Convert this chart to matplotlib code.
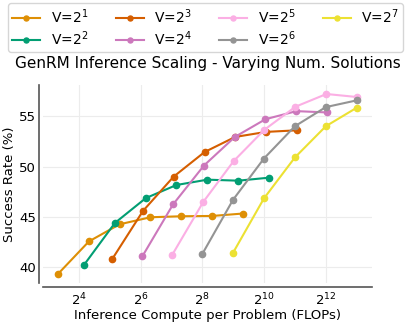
import matplotlib
matplotlib.use("Agg")
import matplotlib.pyplot as plt
import numpy as np

# log2 of inference compute per problem, success rates (%)
labels = ["V=$2^1$", "V=$2^2$", "V=$2^3$", "V=$2^4$", "V=$2^5$", "V=$2^6$", "V=$2^7$"]
colors = ["#DE8F05", "#029E73", "#D55E00", "#CC78BC", "#FBAFE4", "#949494", "#ECE133"]

x_v1 = [3.33, 4.33, 5.32, 6.32, 7.32, 8.32, 9.31]
y_v1 = [39.34, 42.57, 44.27, 44.97, 45.07, 45.1, 45.34]
x_v2 = [4.17, 5.17, 6.17, 7.16, 8.16, 9.16, 10.16]
y_v2 = [40.23, 44.4, 46.87, 48.17, 48.7, 48.6, 48.9]
x_v3 = [5.08, 6.08, 7.07, 8.07, 9.06, 10.06, 11.07]
y_v3 = [40.8, 45.6, 49.0, 51.44, 52.94, 53.44, 53.6]
x_v4 = [6.06, 7.05, 8.05, 9.05, 10.04, 11.04, 12.03]
y_v4 = [41.1, 46.24, 50.1, 52.94, 54.7, 55.5, 55.37]
x_v5 = [7.03, 8.03, 9.01, 10.0, 11.01, 12.01, 13.0]
y_v5 = [41.27, 46.5, 50.54, 53.64, 55.94, 57.2, 56.9]
x_v6 = [8.0, 8.99, 9.99, 10.99, 11.99, 12.99]
y_v6 = [41.34, 46.7, 50.8, 54.0, 55.9, 56.57]
x_v7 = [8.99, 9.99, 10.99, 11.99, 12.99]
y_v7 = [41.44, 46.84, 50.9, 54.0, 55.84]

xs = [x_v1, x_v2, x_v3, x_v4, x_v5, x_v6, x_v7]
ys = [y_v1, y_v2, y_v3, y_v4, y_v5, y_v6, y_v7]

FS = 9.5
FT = 11
FL = 10
fig = plt.figure(figsize=(4.11, 3.26), dpi=100)
ax = fig.add_axes([43 / 411, 43 / 326, (372 - 43) / 411, (283 - 85) / 326])

handles = []
for xl, yl, c, lab in zip(xs, ys, colors, labels):
    h, = ax.plot(2.0 ** np.array(xl), yl, color=c, lw=1.5, marker="o", ms=4.5, label=lab)
    handles.append(h)

ax.set_xscale("log", base=2)
ax.set_xticks([2**4, 2**6, 2**8, 2**10, 2**12])
ax.set_yticks([40, 45, 50, 55])
ax.minorticks_off()
ax.tick_params(axis="y", length=0, labelsize=FS, pad=2, colors="black")
ax.tick_params(axis="x", length=0, labelsize=FS, pad=3, colors="black")
ax.grid(True, color="#ececec", lw=0.8)
ax.set_axisbelow(True)
for s in ["top", "right"]:
    ax.spines[s].set_visible(False)
for s in ["left", "bottom"]:
    ax.spines[s].set_position(("outward", 3))
    ax.spines[s].set_color("#555555")
    ax.spines[s].set_linewidth(1.2)

ax.set_xlabel("Inference Compute per Problem (FLOPs)", fontsize=FS, labelpad=1)
ax.set_ylabel("Success Rate (%)", fontsize=FS, labelpad=2)
ax.set_title("GenRM Inference Scaling - Varying Num. Solutions", fontsize=FT, pad=12)

fig.legend(handles=handles, loc="upper center", bbox_to_anchor=(0.5, 0.995), ncol=4,
           fontsize=FL, markerscale=0.8, handlelength=2.0, columnspacing=2.0,
           handletextpad=0.75, labelspacing=0.25, borderpad=0.3, borderaxespad=0.1,
           frameon=True, edgecolor="#cccccc", fancybox=True)

fig.savefig("out.png", dpi=100)
